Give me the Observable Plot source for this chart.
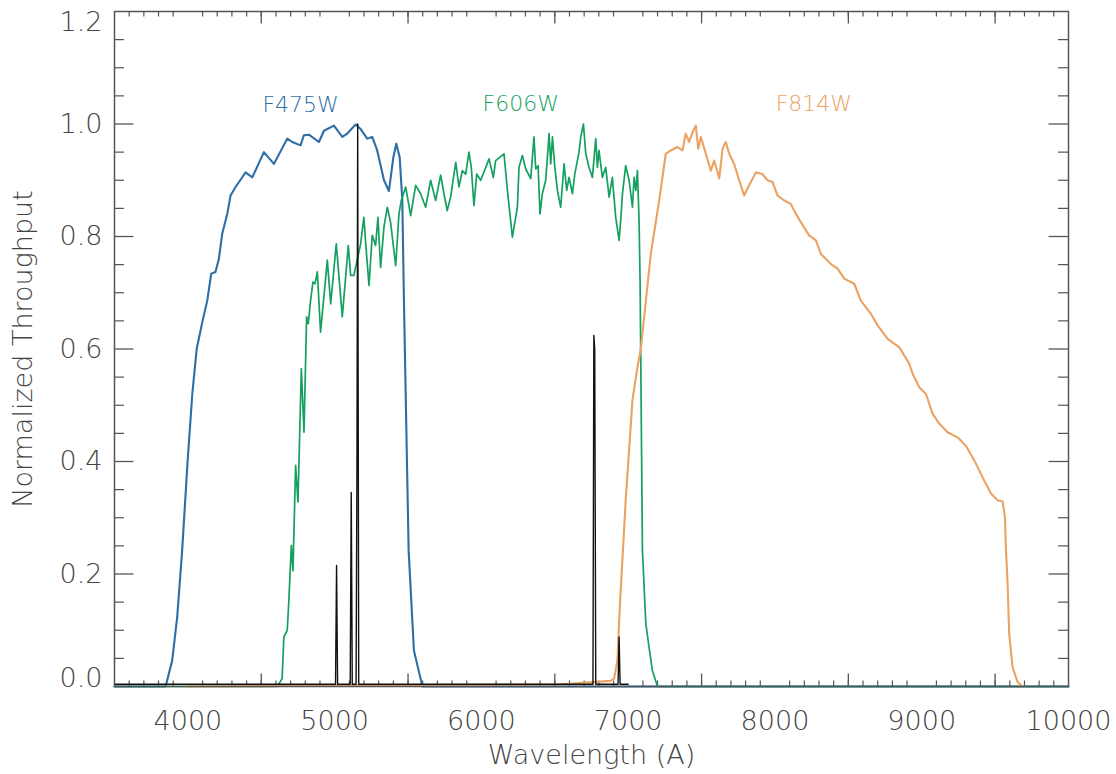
<!DOCTYPE html>
<html>
<head>
<meta charset="utf-8">
<script src="https://cdn.jsdelivr.net/npm/d3@7"></script>
<script src="https://cdn.jsdelivr.net/npm/@observablehq/plot@0.6"></script>
<style>
  html, body { margin: 0; padding: 0; background: #ffffff; }
  #chart svg { display: block; }
</style>
</head>
<body>
<div id="chart"></div>
<script>
// ---------- Data ----------
const f475wWave = [3500, 3848, 3893, 3927, 3961, 3998, 4030, 4060, 4100, 4132, 4159, 4188, 4211, 4234, 4268, 4291, 4325, 4393, 4439, 4518, 4586, 4677, 4711, 4768, 4790, 4825, 4893, 4927, 4995, 5052, 5086, 5143, 5177, 5222, 5256, 5290, 5336, 5370, 5400, 5420, 5443, 5461, 5472, 5504, 5540, 5598, 10000];
const f475wThru = [0, 0, 0.046, 0.123, 0.242, 0.40, 0.52, 0.60, 0.65, 0.686, 0.734, 0.737, 0.760, 0.805, 0.840, 0.873, 0.888, 0.914, 0.905, 0.950, 0.929, 0.974, 0.968, 0.962, 0.980, 0.981, 0.968, 0.988, 0.997, 0.977, 0.983, 0.999, 0.991, 0.974, 0.977, 0.953, 0.900, 0.881, 0.941, 0.965, 0.941, 0.864, 0.686, 0.242, 0.064, 0, 0];

const f606wWave = [3500, 4609, 4642, 4654, 4677, 4688, 4705, 4716, 4734, 4750, 4773, 4791, 4809, 4820, 4836, 4852, 4866, 4882, 4904, 4950, 4973, 5011, 5052, 5093, 5109, 5131, 5177, 5199, 5211, 5234, 5256, 5279, 5295, 5313, 5336, 5359, 5381, 5416, 5438, 5454, 5484, 5518, 5552, 5586, 5620, 5654, 5688, 5722, 5745, 5767, 5790, 5825, 5847, 5870, 5893, 5915, 5931, 5949, 5968, 5995, 6052, 6081, 6097, 6154, 6177, 6211, 6245, 6256, 6279, 6302, 6336, 6358, 6370, 6386, 6399, 6415, 6438, 6461, 6472, 6484, 6500, 6518, 6540, 6563, 6581, 6597, 6620, 6636, 6665, 6677, 6695, 6711, 6733, 6756, 6779, 6790, 6801, 6824, 6847, 6870, 6892, 6915, 6938, 6949, 6961, 6983, 7006, 7029, 7040, 7052, 7063, 7074, 7081, 7097, 7120, 7142, 7165, 7200, 10000];
const f606wThru = [0, 0, 0.014, 0.088, 0.100, 0.153, 0.251, 0.206, 0.393, 0.328, 0.565, 0.452, 0.657, 0.645, 0.686, 0.719, 0.716, 0.737, 0.630, 0.758, 0.680, 0.787, 0.657, 0.784, 0.731, 0.731, 0.787, 0.834, 0.790, 0.713, 0.802, 0.784, 0.834, 0.745, 0.817, 0.852, 0.825, 0.748, 0.840, 0.864, 0.888, 0.837, 0.891, 0.876, 0.852, 0.900, 0.864, 0.909, 0.876, 0.846, 0.870, 0.932, 0.888, 0.917, 0.911, 0.950, 0.923, 0.855, 0.911, 0.900, 0.938, 0.905, 0.935, 0.947, 0.882, 0.799, 0.852, 0.923, 0.944, 0.920, 0.903, 0.977, 0.920, 0.926, 0.840, 0.876, 0.900, 0.983, 0.929, 0.977, 0.923, 0.882, 0.852, 0.929, 0.882, 0.905, 0.876, 0.911, 0.950, 0.977, 1.000, 0.947, 0.923, 0.905, 0.974, 0.923, 0.953, 0.905, 0.923, 0.870, 0.905, 0.834, 0.793, 0.829, 0.876, 0.926, 0.900, 0.852, 0.905, 0.882, 0.917, 0.829, 0.722, 0.242, 0.112, 0.070, 0.028, 0, 0];

const f814wWave = [4000, 6550, 6880, 6904, 6926, 6945, 6983, 7029, 7063, 7086, 7154, 7211, 7256, 7290, 7336, 7370, 7392, 7415, 7438, 7461, 7477, 7495, 7529, 7563, 7586, 7620, 7643, 7665, 7688, 7722, 7756, 7790, 7824, 7870, 7915, 7949, 7983, 8017, 8063, 8108, 8131, 8177, 8233, 8279, 8313, 8381, 8427, 8472, 8540, 8585, 8653, 8699, 8768, 8847, 8915, 8938, 8983, 9029, 9074, 9120, 9176, 9244, 9301, 9358, 9426, 9472, 9517, 9551, 9567, 9574, 9585, 9596, 9619, 9653, 9687];
const f814wThru = [0, 0.004, 0.010, 0.014, 0.046, 0.153, 0.331, 0.509, 0.568, 0.600, 0.769, 0.864, 0.947, 0.953, 0.959, 0.953, 0.983, 0.968, 0.985, 0.997, 0.956, 0.977, 0.947, 0.917, 0.935, 0.903, 0.956, 0.968, 0.947, 0.929, 0.900, 0.873, 0.891, 0.914, 0.911, 0.900, 0.897, 0.873, 0.864, 0.858, 0.846, 0.825, 0.802, 0.793, 0.769, 0.751, 0.743, 0.725, 0.716, 0.686, 0.663, 0.642, 0.618, 0.603, 0.574, 0.556, 0.532, 0.520, 0.485, 0.467, 0.452, 0.443, 0.428, 0.402, 0.366, 0.343, 0.331, 0.329, 0.301, 0.242, 0.183, 0.094, 0.034, 0.008, 0];

const lineWave = [3500, 5006, 5013, 5020, 5106, 5113, 5120, 5146, 5152, 5157, 5164, 6760, 6766, 6772, 6779, 6931, 6938, 6945, 7000];
const lineThru = [0.004, 0.004, 0.215, 0.004, 0.004, 0.345, 0.004, 0.004, 0.40, 1.0, 0.004, 0.004, 0.624, 0.60, 0.004, 0.004, 0.088, 0.004, 0.004];

const filterNames = ["F475W", "F606W", "F814W"];
const filterLabelWave = [4768, 6268, 8265];
const filterLabelY = [1.033, 1.035, 1.035];
const filterColors = ["#2d6ea6", "#14a05e", "#eba262"];

const xTickValues = [4000, 5000, 6000, 7000, 8000, 9000, 10000];
const yTickValues = [0.0, 0.2, 0.4, 0.6, 0.8, 1.0, 1.2];

// ---------- Build tables ----------
const toRows = (w, t) => w.map((x, i) => ({w: x, t: t[i]}));
const f475w = toRows(f475wWave, f475wThru);
const f606w = toRows(f606wWave, f606wThru);
const f814w = toRows(f814wWave, f814wThru);
const lines = toRows(lineWave, lineThru);
const labels = filterNames.map((n, i) => ({name: n, w: filterLabelWave[i], t: filterLabelY[i], c: filterColors[i]}));

const X0 = 3500, X1 = 10000, Y0 = 0, Y1 = 1.2;
const W = 1116, H = 774;
const mL = 114, mR = 48, mT = 11, mB = 88;
const pxX = (X1 - X0) / (W - mL - mR);   // data units per px
const pxY = (Y1 - Y0) / (H - mT - mB);

const xMajor = d3.range(3500, 10001, 1000).filter(v => v >= 4000);
const xMinor = d3.range(3500, 10001, 100).filter(v => v % 1000 !== 0 && v > X0 && v < X1);
const yMajor = d3.range(0, 1.2001, 0.2).map(v => +v.toFixed(2)).filter(v => v > 0 && v < 1.2);
const yMinor = d3.range(0, 1.2001, 0.05).map(v => +v.toFixed(2)).filter(v => Math.round(v * 100) % 20 !== 0);

const yMid = yTickValues.filter(v => v > Y0 && v < Y1);
const yBottom = yTickValues.filter(v => v === Y0);
const yTop = yTickValues.filter(v => v === Y1);

const tickColor = "#555";
const textColor = "#444";
const font = "DejaVu Sans, sans-serif";
const fw = 300;
const yLabelOpts = {x: X0, y: d => d, text: d => d.toFixed(1), dx: -12, textAnchor: "end", fontSize: 27, fontWeight: fw, fill: textColor, fontFamily: font};

const chart = Plot.plot({
  width: W,
  height: H,
  marginLeft: mL,
  marginRight: mR,
  marginTop: mT,
  marginBottom: mB,
  x: {domain: [X0, X1], axis: null},
  y: {domain: [Y0, Y1], axis: null},
  style: {fontFamily: font, background: "#ffffff"},
  marks: [
    // inward ticks: bottom / top
    Plot.ruleX(xMajor, {x: d => d, y1: Y0, y2: Y0 + 12.5 * pxY, stroke: tickColor, strokeWidth: 1.3}),
    Plot.ruleX(xMinor, {x: d => d, y1: Y0, y2: Y0 + 5.5 * pxY, stroke: tickColor, strokeWidth: 1.2}),
    Plot.ruleX(xMajor, {x: d => d, y1: Y1, y2: Y1 - 12.5 * pxY, stroke: tickColor, strokeWidth: 1.3}),
    Plot.ruleX(xMinor, {x: d => d, y1: Y1, y2: Y1 - 5.5 * pxY, stroke: tickColor, strokeWidth: 1.2}),
    // inward ticks: left / right
    Plot.ruleY(yMajor, {y: d => d, x1: X0, x2: X0 + 19.5 * pxX, stroke: tickColor, strokeWidth: 1.3}),
    Plot.ruleY(yMinor, {y: d => d, x1: X0, x2: X0 + 10 * pxX, stroke: tickColor, strokeWidth: 1.2}),
    Plot.ruleY(yMajor, {y: d => d, x1: X1, x2: X1 - 19.5 * pxX, stroke: tickColor, strokeWidth: 1.3}),
    Plot.ruleY(yMinor, {y: d => d, x1: X1, x2: X1 - 10 * pxX, stroke: tickColor, strokeWidth: 1.2}),

    // filter curves
    Plot.line(f475w, {x: "w", y: "t", stroke: filterColors[0], strokeWidth: 2.1}),
    Plot.line(f606w, {x: "w", y: "t", stroke: filterColors[1], strokeWidth: 1.7}),
    Plot.line(f814w, {x: "w", y: "t", stroke: filterColors[2], strokeWidth: 2.1}),
    // emission lines
    Plot.line(lines, {x: "w", y: "t", stroke: "#111", strokeWidth: 1.4}),

    // frame
    Plot.frame({stroke: tickColor, strokeWidth: 1.5}),

    // filter labels
    Plot.text(labels, {x: "w", y: "t", text: "name", fill: "c", fontSize: 22, fontWeight: fw, fontFamily: font}),

    // tick labels
    Plot.text(xTickValues, {x: d => d, y: Y0, text: d => String(d), dy: 35, fontSize: 27, fontWeight: fw, fill: textColor, fontFamily: font}),
    Plot.text(yMid, yLabelOpts),
    Plot.text(yBottom, {...yLabelOpts, dy: -8}),
    Plot.text(yTop, {...yLabelOpts, dy: 11}),

    // axis titles
    Plot.text(["Wavelength (A)"], {frameAnchor: "bottom", lineAnchor: "middle", dy: 69, fontSize: 27, fontWeight: fw, fill: textColor, fontFamily: font}),
    Plot.text(["Normalized Throughput"], {frameAnchor: "left", textAnchor: "middle", lineAnchor: "middle", dx: -91, rotate: -90, fontSize: 27, fontWeight: fw, fill: textColor, fontFamily: font})
  ]
});

document.getElementById("chart").appendChild(chart);
</script>
</body>
</html>
